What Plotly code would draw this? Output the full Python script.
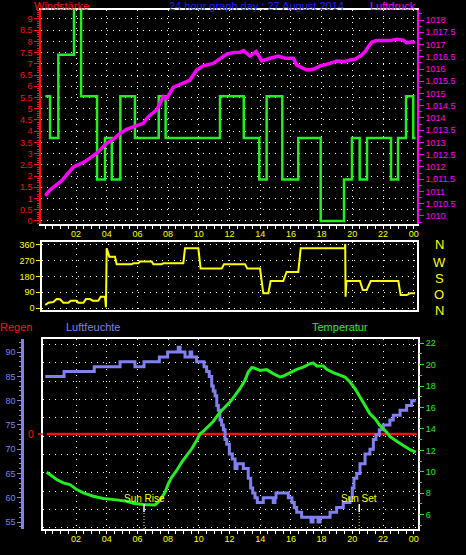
import plotly.graph_objects as go

# ---------------- data ----------------
hour_ticks = [2, 4, 6, 8, 10, 12, 14, 16, 18, 20, 22, 24]
hour_labels = ["02", "04", "06", "08", "10", "12", "14", "16", "18", "20", "22", "00"]

# Windstärke (km/h), step series
wind_hours = [0.0, 0.31, 0.85, 1.87, 2.33, 3.37, 3.89, 4.33, 4.89, 5.84, 7.39, 7.84, 11.38,
              12.93, 13.94, 14.42, 15.44, 16.48, 17.94, 19.46, 19.98, 20.48, 20.96, 22.52,
              22.98, 23.50, 23.97, 24.12]
wind_speed = [5.56, 3.70, 7.41, 11.11, 5.56, 1.85, 3.70, 1.85, 5.56, 3.70, 5.56, 3.70, 5.56,
              3.70, 1.85, 5.56, 1.85, 3.70, 0.0, 1.85, 3.70, 1.85, 3.70, 1.85,
              3.70, 5.56, 3.70, 3.70]

# Luftdruck (hPa)
pressure_hours = [0.0, 0.31, 1.07, 1.50, 1.82, 2.59, 3.35, 4.00, 4.43, 4.87, 5.30, 5.73, 6.38,
                  6.71, 7.26, 7.69, 7.91, 8.34, 8.89, 9.43, 9.86, 10.29, 10.94, 11.38, 11.82,
                  12.25, 12.68, 12.90, 13.34, 13.73, 14.10, 14.64, 15.18, 15.62, 16.16, 16.38,
                  16.59, 17.03, 17.46, 17.90, 18.55, 18.98, 19.52, 19.85, 20.18, 20.61, 20.83,
                  21.04, 21.26, 21.59, 22.02, 22.45, 22.89, 23.32, 23.54, 23.87, 24.08]
pressure_hpa = [1010.83, 1011.06, 1011.44, 1011.74, 1011.99, 1012.22, 1012.56, 1012.97, 1013.13,
                1013.37, 1013.54, 1013.64, 1013.78, 1014.05, 1014.33, 1014.87, 1014.80, 1015.25,
                1015.41, 1015.55, 1015.96, 1016.13, 1016.23, 1016.40, 1016.61, 1016.67, 1016.68,
                1016.75, 1016.53, 1016.71, 1016.33, 1016.44, 1016.53, 1016.44, 1016.44, 1016.16,
                1016.10, 1015.96, 1015.99, 1016.13, 1016.23, 1016.33, 1016.30, 1016.37, 1016.40,
                1016.57, 1016.71, 1016.91, 1017.09, 1017.16, 1017.16, 1017.16, 1017.21, 1017.18,
                1017.07, 1017.11, 1017.07]

# Windrichtung (deg)
dir_hours = [0.0, 0.20, 0.52, 0.74, 0.96, 1.17, 1.50, 1.65, 2.05, 2.15, 2.48, 2.65, 2.91, 3.09,
             3.45, 3.61, 3.89, 3.95, 4.00, 4.17, 4.54, 4.65, 5.63, 5.73, 6.06, 6.17, 6.93, 7.04,
             7.58, 7.69, 8.99, 9.10, 9.97, 10.12, 11.49, 11.64, 13.01, 13.16, 13.99, 14.20,
             14.53, 14.68, 15.50, 15.72, 16.48, 16.64, 19.52, 19.54, 19.56, 19.62, 20.50,
             20.68, 20.94, 21.20, 23.00, 23.15, 23.54, 23.76, 24.08]
dir_deg = [17, 30, 34, 51, 50, 30, 30, 42, 42, 30, 30, 51, 51, 42,
           42, 65, 65, 4, 341, 293, 293, 250, 250, 255, 255, 265, 265, 250,
           250, 255, 255, 341, 341, 225, 225, 250, 250, 225, 225, 84,
           84, 154, 154, 206, 206, 341, 341, 366, 65, 154, 154,
           103, 103, 154, 154, 74, 74, 84, 84]

# Luftfeuchte (%), step series
hum_hours = [0.0, 1.22, 3.19, 4.87, 5.84, 6.43, 7.43, 7.97, 8.66, 8.78, 9.10, 9.43, 9.54, 9.86,
             10.34, 10.51, 10.68, 10.84, 10.94, 11.06, 11.17, 11.27, 11.38, 11.49, 11.60,
             11.71, 11.82, 11.99, 12.18, 12.36, 12.49, 12.90, 13.22, 13.38, 13.51, 13.66,
             13.81, 14.20, 14.85, 14.96, 15.03, 15.83, 16.07, 16.22, 16.38, 16.70, 17.31,
             17.44, 17.77, 17.90, 18.55, 18.98, 19.41, 19.85, 20.00, 20.11, 20.29, 20.50,
             20.83, 21.15, 21.37, 21.54, 21.76, 22.02, 22.45, 22.67, 23.11, 23.54, 23.87, 24.13]
hum_pct = [85, 86, 87, 88, 87, 88, 89, 90, 91, 90, 89, 90, 89, 88,
           87, 86, 85, 83, 82, 81, 79, 78, 76, 75, 74,
           72, 71, 69, 68, 66, 67, 66, 64, 62, 61, 60,
           59, 60, 59, 60, 61, 60, 59, 58, 57, 56, 55,
           56, 55, 56, 57, 58, 59, 60, 62, 64, 65, 67,
           69, 70, 72, 73, 74, 75, 76, 77, 78, 79, 80, 80]

# Temperatur (°C)
temp_hours = [0.09, 0.31, 0.74, 1.17, 1.61, 2.05, 2.48, 3.13, 3.78, 4.65, 5.30, 5.73, 6.38, 7.15,
              7.47, 7.80, 8.01, 8.23, 8.56, 8.89, 9.21, 9.54, 9.86, 10.08, 10.29, 10.94, 11.38,
              12.03, 12.36, 12.68, 13.01, 13.22, 13.45, 13.60, 13.99, 14.42, 14.85, 15.29,
              15.51, 15.94, 16.38, 16.81, 17.24, 17.46, 17.68, 18.11, 18.33, 18.76, 19.20,
              19.52, 19.85, 20.18, 20.50, 20.83, 21.15, 21.48, 21.80, 22.24, 22.45, 22.89,
              23.32, 23.76, 24.13]
temp_c = [9.96, 9.72, 9.28, 8.97, 8.81, 8.34, 8.03, 7.72, 7.50, 7.38, 7.25, 7.06, 6.94, 6.91,
          7.31, 8.09, 8.87, 9.49, 10.12, 10.90, 11.52, 12.15, 12.93, 13.55, 13.77, 14.70, 15.57,
          16.51, 17.13, 17.76, 18.54, 19.32, 19.73, 19.69, 19.47, 19.54, 19.17, 18.85,
          18.94, 19.26, 19.57, 19.78, 20.10, 20.16, 19.88, 19.88, 19.57, 19.26, 19.00,
          18.85, 18.38, 17.76, 16.98, 16.20, 15.42, 14.96, 14.33, 13.70, 13.30, 12.86,
          12.46, 12.06, 11.83]

# Regen (mm)
rain_hours = [0.09, 24.2]
rain_mm = [0, 0]

sun_rise = 6.43
sun_set = 20.45

# ---------------- styling ----------------
W, H = 466, 555
RED = "#ff1010"
GREEN = "#22ee22"
MAGENTA = "#ff00ff"
YELLOW = "#ffff00"
HUM = "#8080f0"
BLUE = "#2020ff"
GRID = dict(showgrid=True, gridcolor="#ffffff", gridwidth=1, griddash="1px,5px")
FONT = "Liberation Sans, Arial, sans-serif"


def fx(p):
    return p / W


def fy(p):
    return 1 - p / H


X0, PPH = 45.3, 15.35


def hx(p):
    return (p - X0) / PPH


fig = go.Figure()
fig.add_trace(go.Scatter(x=wind_hours, y=wind_speed, mode="lines",
                         line=dict(color=GREEN, width=2.5, shape="hv"), xaxis="x", yaxis="y"))
fig.add_trace(go.Scatter(x=pressure_hours, y=pressure_hpa, mode="lines",
                         line=dict(color=MAGENTA, width=3.5), xaxis="x", yaxis="y2"))
fig.add_trace(go.Scatter(x=dir_hours, y=dir_deg, mode="lines",
                         line=dict(color=YELLOW, width=2), xaxis="x2", yaxis="y3"))
fig.add_trace(go.Scatter(x=rain_hours, y=rain_mm, mode="lines",
                         line=dict(color=RED, width=2.5), xaxis="x3", yaxis="y4"))
fig.add_trace(go.Scatter(x=hum_hours, y=hum_pct, mode="lines",
                         line=dict(color=HUM, width=3, shape="hv"), xaxis="x3", yaxis="y5"))
fig.add_trace(go.Scatter(x=temp_hours, y=temp_c, mode="lines",
                         line=dict(color=GREEN, width=3), xaxis="x3", yaxis="y6"))


def xaxis_cfg(domain_px, anchor, **kw):
    d = dict(domain=[fx(domain_px[0]), fx(domain_px[1])], anchor=anchor,
             range=[hx(domain_px[0]), hx(domain_px[1])],
             tickmode="array", tickvals=hour_ticks, ticktext=hour_labels,
             zeroline=False, showline=True, linecolor="#ffffff", linewidth=1.5, mirror=True)
    d.update(GRID)
    d.update(kw)
    return d


def minor(dtick, length, color, tick0=0):
    return dict(tickmode="linear", tick0=tick0, dtick=dtick, ticks="outside", ticklen=length,
                tickcolor=color, showgrid=False)


layout = dict(
    width=W, height=H, autosize=False,
    margin=dict(l=0, r=0, t=0, b=0, pad=0),
    paper_bgcolor="#000000", plot_bgcolor="#000000",
    template="none", showlegend=False,
    font=dict(family=FONT, size=9, color="#ffffff"),
    # --- top panel ---
    xaxis=xaxis_cfg((41, 417), "y", showticklabels=False, ticks="outside", ticklen=3,
                    tickcolor="#ffffff", minor=minor(0.5, 3, "#ffffff")),
    yaxis=dict(domain=[fy(224), fy(10)], anchor="x", range=[-0.134, 9.40],
               tickmode="linear", tick0=0, dtick=0.5, ticks="outside", ticklen=5, tickcolor=RED,
               tickfont=dict(color=RED, size=9, family=FONT),
               minor=minor(0.1, 2, RED),
               showline=True, linecolor=RED, linewidth=1.5, zeroline=False, **GRID),
    yaxis2=dict(overlaying="y", side="right", anchor="x", range=[1009.67, 1018.41],
                tickmode="linear", tick0=1010, dtick=0.5, ticks="outside", ticklen=5,
                tickcolor=MAGENTA, tickfont=dict(color=MAGENTA, size=9, family=FONT),
                minor=minor(0.25, 3, MAGENTA, 1010),
                showline=True, linecolor=MAGENTA, linewidth=1.5, showgrid=False, zeroline=False),
    # --- middle panel ---
    xaxis2=xaxis_cfg((42, 417), "y3", side="top", ticks="",
                     tickfont=dict(color=YELLOW, size=9)),
    yaxis3=dict(domain=[fy(310), fy(242)], anchor="x2", range=[-11.4, 377.1],
                tickmode="array", tickvals=[0, 90, 180, 270, 360], ticks="outside", ticklen=4,
                tickcolor=YELLOW, tickfont=dict(color=YELLOW, size=9),
                showline=True, linecolor="#ffffff", linewidth=1.5, mirror=True, zeroline=False,
                **GRID),
    # --- bottom panel ---
    xaxis3=xaxis_cfg((43, 418), "y4", ticks="outside", ticklen=3, tickcolor="#ffffff",
                     tickfont=dict(color=YELLOW, size=9), minor=minor(0.5, 3, "#ffffff"),
                     ticklabelstandoff=-3),
    yaxis4=dict(domain=[fy(529), fy(339)], anchor="x3", range=[-5.18, 5.18],
                tickmode="linear", tick0=-0.11, dtick=1, showticklabels=False, ticks="",
                showline=True, linecolor="#ffffff", linewidth=1.5, mirror=True, zeroline=False,
                **GRID),
    yaxis5=dict(overlaying="y4", side="left", anchor="free", position=fx(22),
                range=[53.56, 92.7], tickmode="linear", tick0=55, dtick=5,
                ticks="outside", ticklen=4, tickcolor=HUM,
                tickfont=dict(color=HUM, size=9, family=FONT),
                minor=minor(1, 2, HUM, 55),
                showline=True, linecolor=HUM, linewidth=2.5, showgrid=False, zeroline=False),
    yaxis6=dict(overlaying="y4", side="right", anchor="x3", range=[4.66, 22.40],
                tickmode="linear", tick0=6, dtick=2, ticks="outside", ticklen=5,
                tickcolor=GREEN, tickfont=dict(color=GREEN, size=9, family=FONT),
                minor=minor(1, 3, GREEN, 5),
                showline=False, showgrid=False, zeroline=False),
)
fig.update_layout(**layout)

annots = [
    dict(text="Windstärke", x=fx(61), y=fy(5.5), color=RED, size=11),
    dict(text="24 hour graph day : 27 August 2014", x=fx(256), y=fy(5.5), color=BLUE, size=11),
    dict(text="Luftdruck", x=fx(393), y=fy(5.5), color=MAGENTA, size=11),
    dict(text="Regen", x=fx(16), y=fy(327), color=RED, size=11),
    dict(text="Luftfeuchte", x=fx(93), y=fy(327), color=HUM, size=11),
    dict(text="Temperatur", x=fx(340), y=fy(327), color=GREEN, size=11),
]
for a in annots:
    fig.add_annotation(text=a["text"], x=a["x"], y=a["y"], xref="paper", yref="paper",
                       xanchor="center", yanchor="middle", showarrow=False,
                       font=dict(color=a["color"], size=a["size"], family=FONT))

# Regen axis label "0" with its tick
fig.add_annotation(text="0", x=fx(36), y=rain_mm[0], xref="paper", yref="y4",
                   xanchor="right", yanchor="middle", showarrow=False,
                   font=dict(color=RED, size=10, family=FONT))
fig.add_shape(type="line", xref="paper", yref="y4", x0=fx(38), x1=fx(43), y0=0, y1=0,
              line=dict(color=RED, width=1.5))

for letter, py in zip(["N", "W", "S", "O", "N"], [245, 262, 278, 294, 310]):
    fig.add_annotation(text=letter, x=fx(439), y=fy(py), xref="paper", yref="paper",
                       xanchor="center", yanchor="middle", showarrow=False,
                       font=dict(color=YELLOW, size=13, family=FONT))

for label, t in [("Sun Rise", sun_rise), ("Sun Set", sun_set)]:
    fig.add_annotation(text=label, x=t, y=fy(498), xref="x3", yref="paper",
                       xanchor="center", yanchor="middle", showarrow=False,
                       font=dict(color=YELLOW, size=10, family=FONT))
    fig.add_shape(type="line", xref="x3", yref="y4 domain", x0=t, x1=t, y0=0.09, y1=0.132,
                  line=dict(color="#ffffff", width=1.5))
    fig.add_shape(type="line", xref="x3", yref="y4 domain", x0=t, x1=t, y0=0.0, y1=0.09,
                  line=dict(color=YELLOW, width=1, dash="1px,2px"))

fig.write_html("out.html", config={"displayModeBar": False},
               post_script="document.body.style.margin='0px';document.body.style.overflow='hidden';")
